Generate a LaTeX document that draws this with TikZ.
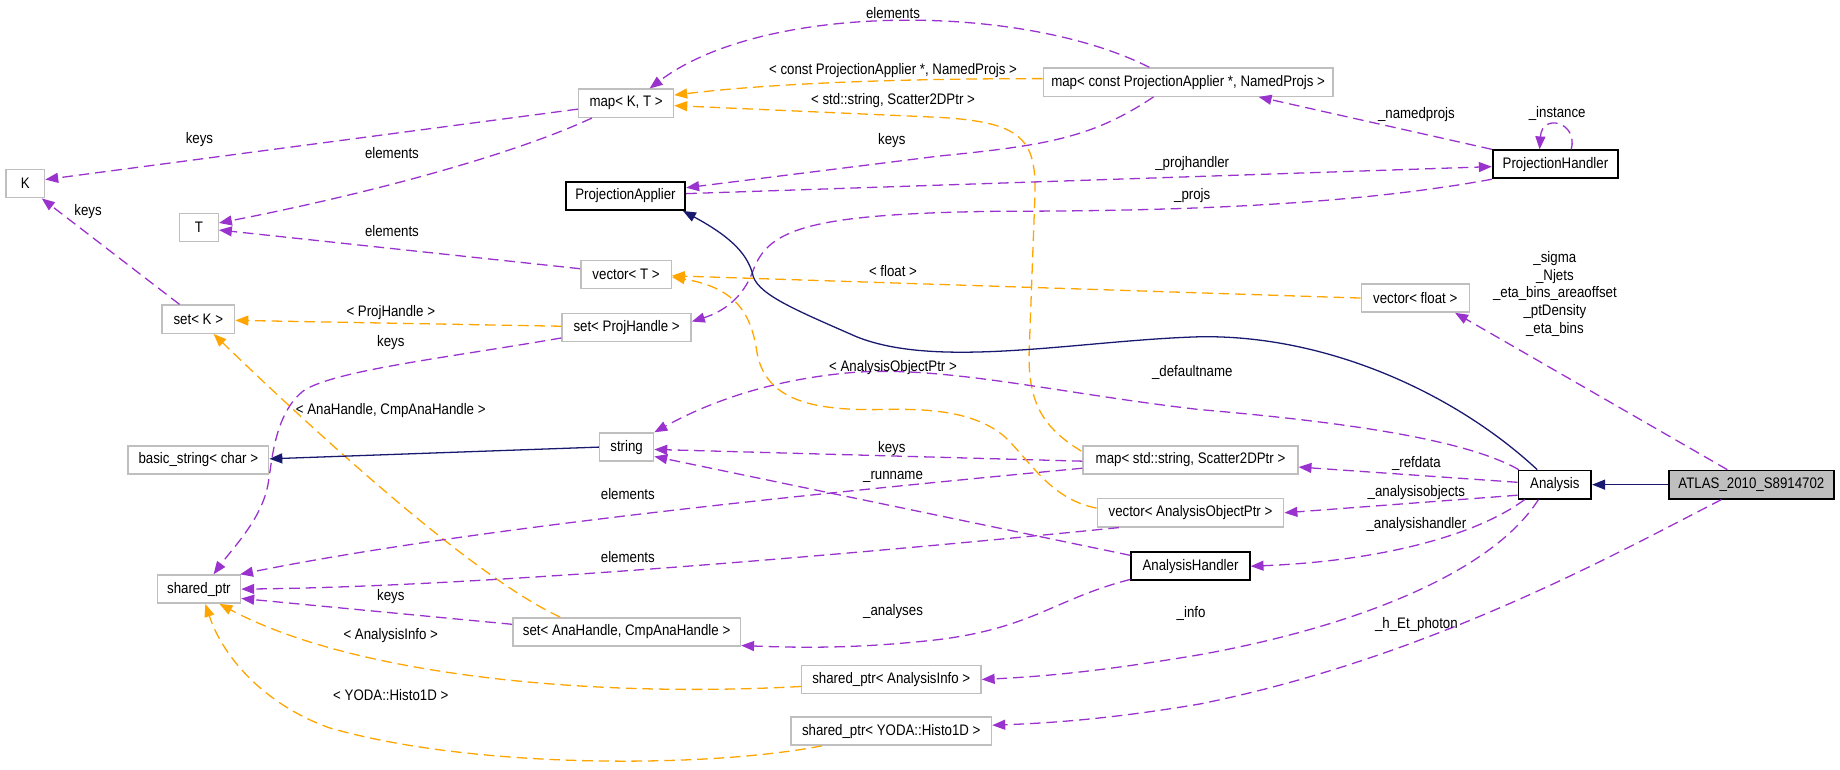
\documentclass[tikz,border=0pt]{standalone}
\usepackage{fontspec}
\setmainfont{Liberation Sans}[FakeStretch=0.87]
\usetikzlibrary{arrows.meta,calc}
\definecolor{pu}{HTML}{9A32CD}
\definecolor{orng}{HTML}{FFA500}
\definecolor{navyc}{HTML}{191970}
\definecolor{boxgray}{HTML}{BFBFBF}
\begin{document}
\begin{tikzpicture}[x=1pt,y=-1pt,
  every node/.style={font=\fontsize{13}{15}\selectfont},
  cls/.style={draw=boxgray, line width=1.2pt, minimum height=24pt, inner sep=0pt, fill=white},
  bcls/.style={draw=black, line width=1.5pt, minimum height=24pt, inner sep=0pt, fill=white},
  focus/.style={draw=black, line width=1.5pt, fill=boxgray, minimum height=24pt, inner sep=0pt},
  usearrow/.style={draw=pu, line width=1.1pt, dash pattern=on 9pt off 5pt, -{Triangle[length=11pt,width=8.5pt]}},
  tmplarrow/.style={draw=orng, line width=1.1pt, dash pattern=on 9pt off 5pt, -{Triangle[length=11pt,width=8.5pt]}},
  inharrow/.style={draw=navyc, line width=1.1pt, -{Triangle[length=11pt,width=8.5pt]}},
  lbl/.style={inner sep=0pt}]
\useasboundingbox (0,0) rectangle (1568,656);
% nodes
\node[cls, minimum width=33pt] (K) at (21.5,156.5) {K};
\node[cls, minimum width=33pt] (T) at (169.5,194) {T};
\node[cls, minimum width=81pt] (mapKT) at (533.5,88) {map< K, T >};
\node[bcls, minimum width=102pt] (PA) at (533,167) {ProjectionApplier};
\node[cls, minimum width=247pt] (mapconst) at (1012.5,70) {map< const ProjectionApplier *, NamedProjs >};
\node[bcls, minimum width=107pt] (PH) at (1325.5,140) {ProjectionHandler};
\node[cls, minimum width=77pt] (vecT) at (533.5,234) {vector< T >};
\node[cls, minimum width=62pt] (setK) at (169,272) {set< K >};
\node[cls, minimum width=110pt] (setPH) at (534,279) {set< ProjHandle >};
\node[cls, minimum width=92pt] (vecF) at (1206,254) {vector< float >};
\node[cls, minimum width=46pt] (str) at (534,381) {string};
\node[cls, minimum width=120pt] (bstr) at (169,392) {basic\_string< char >};
\node[cls, minimum width=183pt] (mapstd) at (1014.5,392) {map< std::string, Scatter2DPtr >};
\node[bcls, minimum width=62pt] (ana) at (1325,413) {Analysis};
\node[focus, minimum width=141pt] (atlas) at (1492.5,413) {ATLAS\_2010\_S8914702};
\node[cls, minimum width=159pt] (vecAOP) at (1014.5,437) {vector< AnalysisObjectPtr >};
\node[bcls, minimum width=101pt] (AH) at (1014.5,482.5) {AnalysisHandler};
\node[cls, minimum width=71pt] (sp) at (169.5,502) {shared\_ptr};
\node[cls, minimum width=194pt] (setAna) at (534,538.5) {set< AnaHandle, CmpAnaHandle >};
\node[cls, minimum width=153pt] (spInfo) at (759.5,579) {shared\_ptr< AnalysisInfo >};
\node[cls, minimum width=171pt] (spYoda) at (759.5,623) {shared\_ptr< YODA::Histo1D >};
% edges
\draw[usearrow] ($(mapKT.west)+(0,5)$) -- ($(K.east)+(0,-3.5)$);
\draw[usearrow] ($(mapKT.south west)+(12,0)$) .. controls (430,135) and (300,168) .. ($(T.east)+(0,-4)$);
\draw[usearrow] ($(vecT.west)+(0,-5)$) -- ($(T.east)+(0,2)$);
\draw[usearrow] ($(setK.north)+(-16,0)$) -- ($(K.south east)+(-3,0)$);
\draw[usearrow] ($(mapconst.north)+(-33,0)$) .. controls (870,2) and (650,2) .. ($(mapKT.north east)+(-21,0)$);
\draw[tmplarrow] ($(mapconst.west)+(0,-3)$) .. controls (750,67) and (650,72) .. ($(mapKT.east)+(0,-7)$);
\draw[tmplarrow] ($(mapstd.north west)+(-1,5)$) .. controls (890,365) and (876,345) .. (877,300) -- (882,165) .. controls (883,118) and (870,104) .. (800,100) -- ($(mapKT.east)+(0,2)$);
\draw[usearrow] ($(mapconst.south)+(-29.5,0)$) .. controls (930,118) and (890,124) .. (800,133) -- ($(PA.east)+(0,-7)$);
\draw[usearrow] ($(PA.east)+(0,-2)$) -- ($(PH.west)+(0,2)$);
\draw[usearrow] (PH.south west) .. controls (1150,175) and (1000,180) .. (854,180) .. controls (690,182) and (655,195) .. (642,230) .. controls (633,255) and (615,266) .. ($(setPH.east)+(0,-5)$);
\draw[usearrow] (PH.north west) -- ($(mapconst.south east)+(-64,0)$);
\draw[usearrow] ($(PH.north)+(13.5,0)$) .. controls (1345,104) and (1314,96) .. ($(PH.north)+(-13.5,0)$);
\draw[inharrow] ($(ana.north)+(-15,0)$) .. controls (1240,335) and (1130,285) .. (1022,287) .. controls (920,290) and (800,315) .. (730,287) .. controls (680,265) and (648,252) .. (642,236) .. controls (638,218) and (625,203) .. ($(PA.south)+(49,0)$);
\draw[tmplarrow] (vecF.west) -- ($(vecT.east)+(0,1)$);
\draw[usearrow] ($(atlas.north)+(-20.5,0)$) -- ($(vecF.south)+(34,0)$);
\draw[tmplarrow] ($(setPH.west)+(0,-1)$) -- ($(setK.east)+(0,1)$);
\draw[usearrow] ($(setPH.west)+(0,9)$) .. controls (380,305) and (290,315) .. (260,332) .. controls (235,350) and (232,390) .. (229,409) .. controls (225,440) and (200,465) .. ($(sp.north)+(12.5,0)$);
\draw[tmplarrow] ($(setAna.north west)+(41,0)$) .. controls (400,490) and (260,360) .. ($(setK.south)+(13,0)$);
\draw[inharrow] (str.west) -- ($(bstr.east)+(0,-1)$);
\draw[usearrow] ($(ana.north west)+(1,0)$) .. controls (1250,375) and (1150,360) .. (1022,349) .. controls (900,335) and (800,310) .. (720,318) .. controls (650,325) and (600,345) .. (str.north east);
\draw[usearrow] ($(mapstd.west)+(0,1)$) -- ($(str.east)+(0,2)$);
\draw[usearrow] ($(AH.north west)+(0,3.5)$) -- ($(str.east)+(0,8)$);
\draw[usearrow] ($(mapstd.west)+(0,7)$) .. controls (700,420) and (400,450) .. ($(sp.north east)+(-1,0)$);
\draw[usearrow] ($(vecAOP.south west)+(19,0)$) .. controls (700,475) and (400,500) .. (sp.east);
\draw[usearrow] ($(ana.west)+(0,-2)$) -- ($(mapstd.east)+(0,6)$);
\draw[usearrow] ($(ana.west)+(0,9)$) -- (vecAOP.east);
\draw[usearrow] ($(ana.south west)+(6,0)$) .. controls (1260,455) and (1180,478) .. (AH.east);
\draw[usearrow] ($(AH.south west)+(0,-1.5)$) .. controls (900,510) and (880,535) .. (800,545) .. controls (730,553) and (680,552) .. ($(setAna.south east)+(0,-1)$);
\draw[usearrow] ($(setAna.west)+(0,-6.5)$) -- ($(sp.east)+(0,8)$);
\draw[usearrow] ($(ana.south)+(-14,0)$) .. controls (1270,490) and (1150,535) .. (1022,558) .. controls (950,570) and (900,576) .. (spInfo.east);
\draw[usearrow] ($(atlas.south)+(-25.5,0)$) .. controls (1380,470) and (1220,560) .. (1022,600) .. controls (950,612) and (900,616) .. ($(spYoda.east)+(0,-5)$);
\draw[tmplarrow] ($(spInfo.west)+(0,6)$) .. controls (500,595) and (300,575) .. ($(sp.south)+(17.5,0)$);
\draw[tmplarrow] ($(spYoda.south west)+(27,0)$) .. controls (600,655) and (400,655) .. (280,620) .. controls (225,600) and (190,560) .. ($(sp.south)+(5.5,0)$);
\draw[tmplarrow] ($(vecAOP.west)+(0,-4)$) .. controls (895,425) and (880,395) .. (856,372) .. controls (830,350) and (790,348) .. (750,349) .. controls (690,350) and (652,340) .. (645,300) .. controls (640,265) and (625,245) .. ($(vecT.east)+(0,2)$);
\draw[inharrow] (atlas.west) -- (ana.east);
% labels
\node[lbl] (l1) at (170,119) {keys};
\node[lbl] (l2) at (334,130) {elements};
\node[lbl] (l3) at (334,197) {elements};
\node[lbl] (l4) at (75,180) {keys};
\node[lbl] (l5) at (761,11) {elements};
\node[lbl] (l6) at (761,60) {< const ProjectionApplier *, NamedProjs >};
\node[lbl] (l7) at (761,86) {< std::string, Scatter2DPtr >};
\node[lbl] (l8) at (760,120) {keys};
\node[lbl] (l9) at (1016,139) {\_projhandler};
\node[lbl] (l10) at (1016,167) {\_projs};
\node[lbl] (l11) at (1207,98) {\_namedprojs};
\node[lbl] (l12) at (1327,97) {\_instance};
\node[lbl] (l13) at (761,231) {< float >};
\node[lbl, align=center] (l14) at (1325,250.5) {\_sigma\\\_Njets\\\_eta\_bins\_areaoffset\\\_ptDensity\\\_eta\_bins};
\node[lbl] (l15) at (333,266) {< ProjHandle >};
\node[lbl] (l16) at (333,292) {keys};
\node[lbl] (l17) at (333,350) {< AnaHandle, CmpAnaHandle >};
\node[lbl] (l18) at (1016,317) {\_defaultname};
\node[lbl] (l19) at (761,313) {< AnalysisObjectPtr >};
\node[lbl] (l20) at (760,382) {keys};
\node[lbl] (l21) at (761,406) {\_runname};
\node[lbl] (l22) at (535,421) {elements};
\node[lbl] (l23) at (535,475) {elements};
\node[lbl] (l24) at (1207,395) {\_refdata};
\node[lbl] (l25) at (1207,420) {\_analysisobjects};
\node[lbl] (l26) at (1207,447) {\_analysishandler};
\node[lbl] (l27) at (761,521) {\_analyses};
\node[lbl] (l28) at (333,508) {keys};
\node[lbl] (l29) at (1015,523) {\_info};
\node[lbl] (l30) at (1207,532) {\_h\_Et\_photon};
\node[lbl] (l31) at (333,542) {< AnalysisInfo >};
\node[lbl] (l32) at (333,592) {< YODA::Histo1D >};
\end{tikzpicture}
\end{document}
